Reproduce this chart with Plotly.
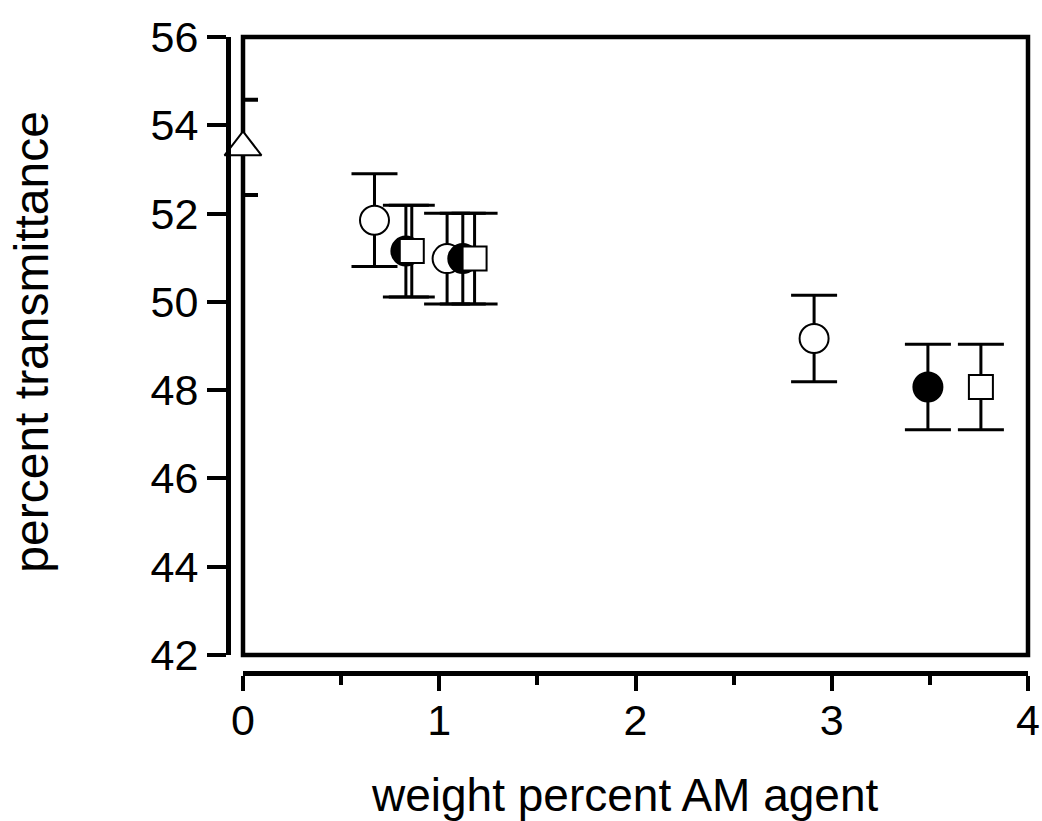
import plotly.graph_objects as go

# ---- data ----
tri_x = [0.0]
tri_y = [53.5]
tri_err = [1.08]

open_circ_x = [0.67, 1.04, 2.91]
open_circ_y = [51.85, 50.98, 49.17]
open_circ_err = [1.05, 1.03, 0.98]

fill_circ_x = [0.83, 1.12, 3.49]
fill_circ_y = [51.15, 50.98, 48.07]
fill_circ_err = [1.04, 1.03, 0.97]

square_x = [0.86, 1.18, 3.76]
square_y = [51.15, 50.98, 48.07]
square_err = [1.04, 1.03, 0.97]

x_ticks = [0, 1, 2, 3, 4]
y_ticks = [42, 44, 46, 48, 50, 52, 54, 56]

FONT = "Liberation Sans, Arial, sans-serif"

fig = go.Figure()


def add_series(x, y, err, symbol, fill, size, capw, thick):
    fig.add_trace(go.Scatter(
        x=x, y=y, mode="markers",
        marker=dict(symbol=symbol, size=size, color=fill,
                    line=dict(color="black", width=2)),
        error_y=dict(type="data", array=err, visible=True,
                     color="black", thickness=thick, width=capw),
        showlegend=False, cliponaxis=False,
    ))


add_series(tri_x, tri_y, tri_err, "triangle-up", "white", 32, 15, 4)
add_series(open_circ_x, open_circ_y, open_circ_err, "circle", "white", 29, 23, 3)
add_series(fill_circ_x, fill_circ_y, fill_circ_err, "circle", "black", 29, 23, 3)
add_series(square_x, square_y, square_err, "square", "white", 24, 23, 3)

XD0 = 15 / 800
YD0 = 18 / 636

# frame box (paper coords so it is not clipped), drawn beneath the markers
fig.add_shape(type="rect", xref="paper", yref="paper", x0=XD0, x1=1, y0=YD0, y1=1,
              line=dict(color="black", width=4.5), layer="below")

fig.update_layout(
    width=1042, height=821,
    margin=dict(l=228, r=14, t=37, b=148, autoexpand=False),
    paper_bgcolor="white", plot_bgcolor="rgba(0,0,0,0)",
    font=dict(family=FONT, color="black"),
    xaxis=dict(
        domain=[XD0, 1], range=[0, 4], anchor="free", position=0,
        automargin=False,
        showgrid=False, zeroline=False,
        showline=True, linewidth=5, linecolor="black",
        tickmode="array", tickvals=x_ticks, ticktext=[str(v) for v in x_ticks],
        ticks="outside", ticklen=15, tickwidth=4, tickcolor="black",
        ticklabelstandoff=-8,
        minor=dict(dtick=0.5, tick0=0, ticks="outside", ticklen=9,
                   tickwidth=4, tickcolor="black", showgrid=False),
        tickfont=dict(size=43, family=FONT, color="black"),
    ),
    yaxis=dict(
        domain=[YD0, 1], range=[42, 56], anchor="free", position=0,
        automargin=False,
        showgrid=False, zeroline=False,
        showline=True, linewidth=5, linecolor="black",
        tickmode="array", tickvals=y_ticks, ticktext=[str(v) for v in y_ticks],
        ticks="outside", ticklen=19, tickwidth=4, tickcolor="black",
        tickfont=dict(size=43, family=FONT, color="black"),
    ),
    annotations=[
        dict(text="weight percent AM agent", xref="paper", yref="paper",
             x=0.496, y=-0.192, xanchor="center", yanchor="middle",
             showarrow=False, font=dict(size=46, family=FONT, color="black")),
        dict(text="percent transmittance", xref="paper", yref="paper",
             x=-0.245, y=0.521, xanchor="center", yanchor="middle",
             textangle=-90, showarrow=False,
             font=dict(size=48, family=FONT, color="black")),
    ],
)

fig.write_html("out.html")
